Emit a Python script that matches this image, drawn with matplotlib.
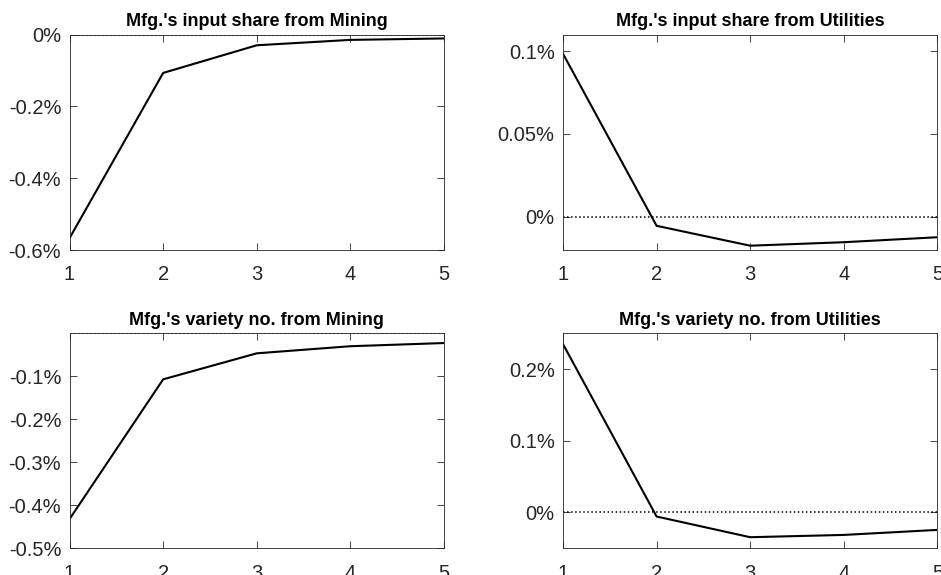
import numpy as np
import matplotlib
matplotlib.use("Agg")
import matplotlib.pyplot as plt
from matplotlib.ticker import FuncFormatter

plt.rcParams['font.family'] = ['Liberation Sans', 'DejaVu Sans']

periods = [1, 2, 3, 4, 5]

# values in percent
share_mining = [-0.567, -0.107, -0.030, -0.015, -0.011]
share_utilities = [0.0984, -0.0054, -0.0174, -0.0153, -0.0123]
variety_mining = [-0.432, -0.107, -0.0465, -0.030, -0.0226]
variety_utilities = [0.235, -0.0056, -0.0345, -0.0313, -0.0243]

titles = ["Mfg.'s input share from Mining",
          "Mfg.'s input share from Utilities",
          "Mfg.'s variety no. from Mining",
          "Mfg.'s variety no. from Utilities"]
series = [share_mining, share_utilities, variety_mining, variety_utilities]
ylims = [(-0.6, 0), (-0.02, 0.11), (-0.5, 0), (-0.05, 0.25)]
yticks = [[-0.6, -0.4, -0.2, 0],
          [0, 0.05, 0.1],
          [-0.5, -0.4, -0.3, -0.2, -0.1],
          [0, 0.1, 0.2]]

# axes rectangles in figure fractions (left, bottom, width, height)
rects = [(0.0739, 0.5652, 0.3979, 0.3748),
         (0.5983, 0.5652, 0.3978, 0.3748),
         (0.0739, 0.0464, 0.3979, 0.3739),
         (0.5983, 0.0464, 0.3978, 0.3739)]

grey = '#262626'
fig = plt.figure(figsize=(9.41, 5.75), dpi=100)

for i in range(4):
    ax = fig.add_axes(rects[i])
    ax.plot(periods, series[i], color='k', lw=1.5)
    ax.axhline(0, color='k', ls=':', lw=1.1)
    ax.set_xlim(1, 5)
    ax.set_ylim(*ylims[i])
    ax.set_xticks(periods)
    ax.set_yticks(yticks[i])
    ax.yaxis.set_major_formatter(FuncFormatter(lambda v, p: f"{v:g}%"))
    ax.tick_params(direction='in', top=True, right=True, length=5,
                   width=0.6, color=grey, labelcolor=grey, labelsize=14.5)
    ax.tick_params(axis='y', pad=6)
    ax.tick_params(axis='x', pad=11)
    for s in ax.spines.values():
        s.set_color(grey)
        s.set_linewidth(0.6)
    ax.set_title(titles[i], fontsize=13, fontweight='bold', pad=6)

fig.savefig('out.png', dpi=100)
